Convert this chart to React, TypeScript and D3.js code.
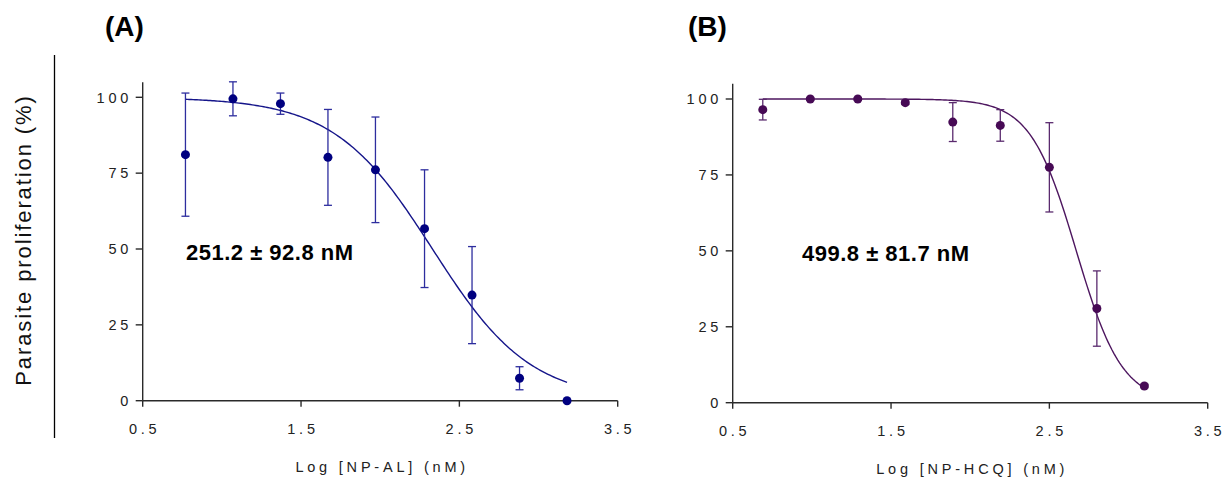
import React from 'react';
import * as d3 from 'd3';

// Shared axis ticks
const X_TICKS = [0.5, 1.5, 2.5, 3.5];
const Y_TICKS = [0, 25, 50, 75, 100];

// NP-AL: log dose (nM), mean proliferation (%), SEM
const AL_LOG_DOSE = [0.77, 1.07, 1.37, 1.67, 1.97, 2.28, 2.58, 2.88, 3.18];
const AL_MEAN = [81.1, 99.5, 97.9, 80.2, 76.1, 56.7, 34.8, 7.4, 0];
const AL_SEM = [20.3, 5.6, 3.5, 15.8, 17.4, 19.4, 16.0, 3.8, 0];
// four-parameter logistic fit for NP-AL
const AL_FIT = { top: 100, bottom: 0, logIC50: 2.33, hill: 1.4 };
const AL_IC50_TEXT = '251.2 ± 92.8 nM';

// NP-HCQ: log dose (nM), mean proliferation (%), SEM
const HCQ_LOG_DOSE = [0.69, 0.99, 1.29, 1.59, 1.89, 2.19, 2.5, 2.8, 3.1];
const HCQ_MEAN = [96.5, 100, 100, 98.8, 92.4, 91.3, 77.5, 31.0, 5.5];
const HCQ_SEM = [3.4, 0.4, 0.4, 0.6, 6.4, 5.2, 14.7, 12.4, 0.6];
// four-parameter logistic fit for NP-HCQ
const HCQ_FIT = { top: 100, bottom: 0, logIC50: 2.67, hill: 3.0 };
const HCQ_IC50_TEXT = '499.8 ± 81.7 nM';

const FONT = "'Liberation Sans', Arial, Helvetica, sans-serif";
const AXIS_COLOR = '#2a2a2a';

type Fit = { top: number; bottom: number; logIC50: number; hill: number };

type PanelProps = {
  letter: string;
  letterX: number;
  xLeft: number;
  xRight: number;
  yZero: number;
  yHundred: number;
  xTitle: string;
  doses: number[];
  means: number[];
  sems: number[];
  fit: Fit;
  ic50Text: string;
  ic50X: number;
  ic50Y: number;
  dotColor: string;
  lineColor: string;
  errColor: string;
};

function logistic(fit: Fit, x: number) {
  return fit.bottom + (fit.top - fit.bottom) / (1 + Math.pow(10, (x - fit.logIC50) * fit.hill));
}

function Panel(p: PanelProps) {
  const x = d3.scaleLinear().domain([0.5, 3.5]).range([p.xLeft, p.xRight]);
  const y = d3.scaleLinear().domain([0, 100]).range([p.yZero, p.yHundred]);
  const yAxisTop = y(105);

  const x0 = p.doses[0];
  const x1 = p.doses[p.doses.length - 1];
  const samples = d3.range(0, 201).map((i) => x0 + ((x1 - x0) * i) / 200);
  const curve = d3
    .line<number>()
    .x((d) => x(d))
    .y((d) => y(logistic(p.fit, d)))
    .curve(d3.curveLinear)(samples);

  const cap = 4;
  return (
    <g>
      <text x={p.letterX} y={36} fontFamily={FONT} fontWeight="bold" fontSize={28} fill="#000">
        {p.letter}
      </text>

      {/* axes */}
      <line x1={p.xLeft} x2={p.xLeft} y1={yAxisTop} y2={p.yZero} stroke={AXIS_COLOR} strokeWidth={1.4} />
      <line x1={p.xLeft} x2={p.xRight} y1={p.yZero} y2={p.yZero} stroke={AXIS_COLOR} strokeWidth={1.4} />
      {Y_TICKS.map((t) => (
        <g key={'y' + t}>
          <line x1={p.xLeft - 7} x2={p.xLeft} y1={y(t)} y2={y(t)} stroke={AXIS_COLOR} strokeWidth={1.4} />
          <text
            x={p.xLeft - 10.5}
            y={y(t)}
            dy="0.36em"
            textAnchor="end"
            fontFamily={FONT}
            fontSize={14.5}
            letterSpacing={3.8}
            fill="#222"
          >
            {t}
          </text>
        </g>
      ))}
      {X_TICKS.map((t) => (
        <g key={'x' + t}>
          <line x1={x(t)} x2={x(t)} y1={p.yZero} y2={p.yZero + 6} stroke={AXIS_COLOR} strokeWidth={1.4} />
          <text
            x={x(t) + 2}
            y={p.yZero + 33}
            textAnchor="middle"
            fontFamily={FONT}
            fontSize={14.5}
            letterSpacing={3.8}
            fill="#222"
          >
            {t.toFixed(1)}
          </text>
        </g>
      ))}
      <text
        x={(p.xLeft + p.xRight) / 2 + 2}
        y={p.yZero + 71}
        textAnchor="middle"
        fontFamily={FONT}
        fontSize={14.5}
        letterSpacing={3.8}
        fill="#222"
      >
        {p.xTitle}
      </text>

      {/* fitted curve */}
      <path d={curve || ''} fill="none" stroke={p.lineColor} strokeWidth={1.4} />

      {/* error bars */}
      {p.doses.map((d, i) => {
        const s = p.sems[i];
        if (!s) return null;
        const cx = x(d);
        const yHi = y(p.means[i] + s);
        const yLo = y(p.means[i] - s);
        return (
          <g key={'e' + i} stroke={p.errColor} strokeWidth={1.3}>
            <line x1={cx} x2={cx} y1={yHi} y2={yLo} />
            <line x1={cx - cap} x2={cx + cap} y1={yHi} y2={yHi} />
            <line x1={cx - cap} x2={cx + cap} y1={yLo} y2={yLo} />
          </g>
        );
      })}

      {/* mean points */}
      {p.doses.map((d, i) => (
        <circle key={'p' + i} cx={x(d)} cy={y(p.means[i])} r={4.5} fill={p.dotColor} />
      ))}

      <text
        x={p.ic50X}
        y={p.ic50Y}
        fontFamily={FONT}
        fontWeight="bold"
        fontSize={22}
        letterSpacing={0.5}
        fill="#000"
      >
        {p.ic50Text}
      </text>
    </g>
  );
}

export default function App() {
  return (
    <svg
      width={1230}
      height={479}
      viewBox="0 0 1230 479"
      style={{ position: 'absolute', left: 0, top: 0, background: '#fff' }}
    >
      <rect x={0} y={0} width={1230} height={479} fill="#fff" />
      <line x1={54.5} x2={54.5} y1={55} y2={438} stroke="#000" strokeWidth={1.3} />
      <text
        transform="translate(31,240) rotate(-90)"
        textAnchor="middle"
        fontFamily={FONT}
        fontSize={22}
        letterSpacing={1.9}
        fill="#111"
      >
        Parasite proliferation (%)
      </text>

      <Panel
        letter="(A)"
        letterX={105}
        xLeft={142.7}
        xRight={617.7}
        yZero={400.7}
        yHundred={97.3}
        xTitle="Log [NP-AL] (nM)"
        doses={AL_LOG_DOSE}
        means={AL_MEAN}
        sems={AL_SEM}
        fit={AL_FIT}
        ic50Text={AL_IC50_TEXT}
        ic50X={186}
        ic50Y={260}
        dotColor="#000080"
        lineColor="#15158a"
        errColor="#2d2d9e"
      />
      <Panel
        letter="(B)"
        letterX={688}
        xLeft={732.7}
        xRight={1207.7}
        yZero={402.7}
        yHundred={99}
        xTitle="Log [NP-HCQ] (nM)"
        doses={HCQ_LOG_DOSE}
        means={HCQ_MEAN}
        sems={HCQ_SEM}
        fit={HCQ_FIT}
        ic50Text={HCQ_IC50_TEXT}
        ic50X={802}
        ic50Y={261}
        dotColor="#470a55"
        lineColor="#4d165f"
        errColor="#5a2a6e"
      />
    </svg>
  );
}
